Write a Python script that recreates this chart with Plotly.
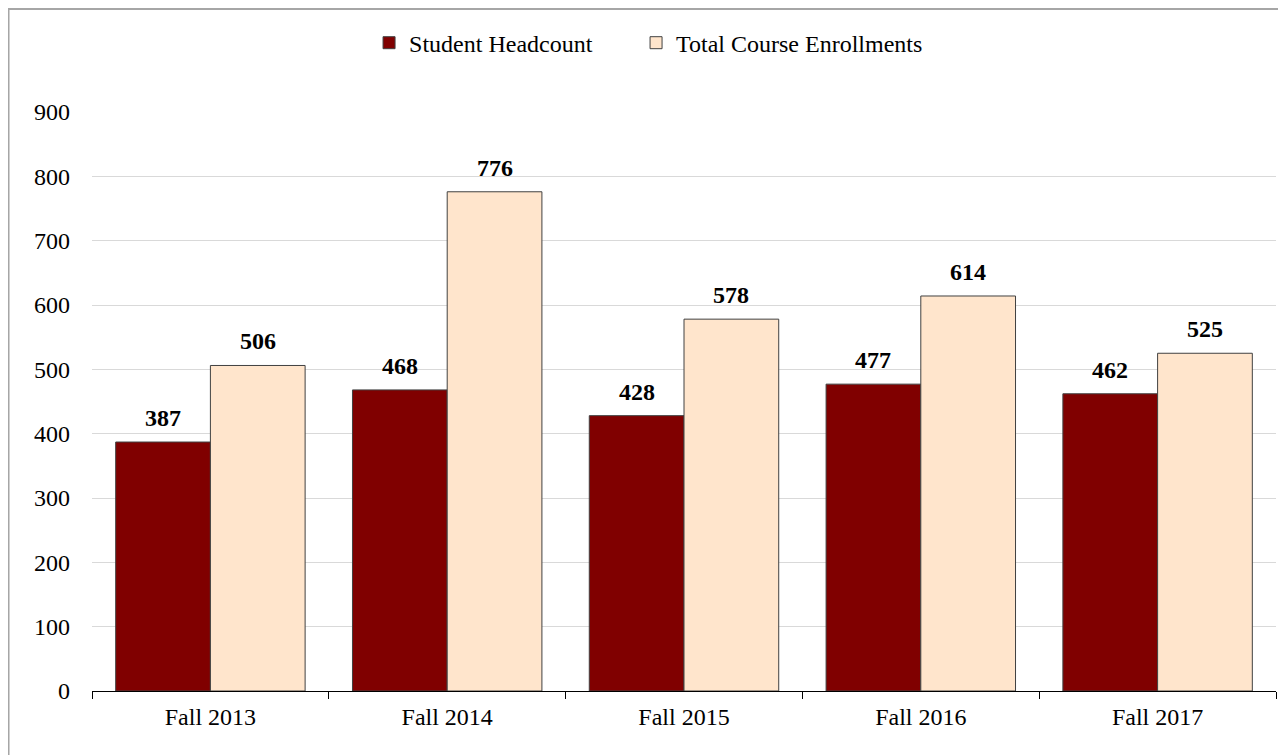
import plotly.graph_objects as go

categories = ["Fall 2013", "Fall 2014", "Fall 2015", "Fall 2016", "Fall 2017"]
headcount = [387, 468, 428, 477, 462]
enrollments = [506, 776, 578, 614, 525]

FONT = "Liberation Serif, Times New Roman, serif"
BARGAP = 0.2
PLOT_W = 1184

fig = go.Figure()
fig.add_trace(go.Bar(
    name="Student Headcount", x=categories, y=headcount, legend="legend",
    marker=dict(color="#800000", line=dict(color="#404040", width=1)),
))
fig.add_trace(go.Bar(
    name="Total Course Enrollments", x=categories, y=enrollments, legend="legend2",
    marker=dict(color="#FFE5CC", line=dict(color="#404040", width=1)),
))

# value labels above each bar
bar_w = PLOT_W / len(categories) * (1 - BARGAP) / 2
annotations = []
for vals, sign in ((headcount, -1), (enrollments, 1)):
    for c, v in zip(categories, vals):
        annotations.append(dict(
            x=c, y=v, xref="x", yref="y", text=f"<b>{v}</b>", showarrow=False,
            xshift=sign * bar_w / 2, yshift=9, yanchor="bottom",
            font=dict(family=FONT, size=24, color="black"),
        ))

leg_common = dict(orientation="h", y=1.119, yanchor="middle", xanchor="left",
                  font=dict(family=FONT, size=24), itemwidth=30,
                  bgcolor="rgba(0,0,0,0)")

fig.update_layout(
    width=1278, height=747,
    margin=dict(l=84, r=10, t=104, b=64),
    paper_bgcolor="white", plot_bgcolor="white",
    barmode="group", bargap=BARGAP, bargroupgap=0,
    font=dict(family=FONT, size=24, color="black"),
    showlegend=True,
    legend=dict(x=0.234, **leg_common),
    legend2=dict(x=0.4595, **leg_common),
    annotations=annotations,
    xaxis=dict(showline=True, linecolor="black", linewidth=1,
               ticks="outside", tickson="boundaries", ticklen=7, tickcolor="black",
               showgrid=False, tickfont=dict(size=24), ticklabelstandoff=4),
    yaxis=dict(range=[0, 900], dtick=100, showgrid=True, gridcolor="#d9d9d9", gridwidth=1,
               showline=False, zeroline=False, ticks="", ticklabelstandoff=21,
               tickfont=dict(size=24)),
    shapes=[dict(type="rect", xref="paper", yref="paper",
                 x0=-0.0705, x1=1.0076, y0=-0.2, y1=1.178,
                 line=dict(color="#a6a6a6", width=2), fillcolor="rgba(0,0,0,0)", layer="below")],
)

fig.write_html("out.html")
